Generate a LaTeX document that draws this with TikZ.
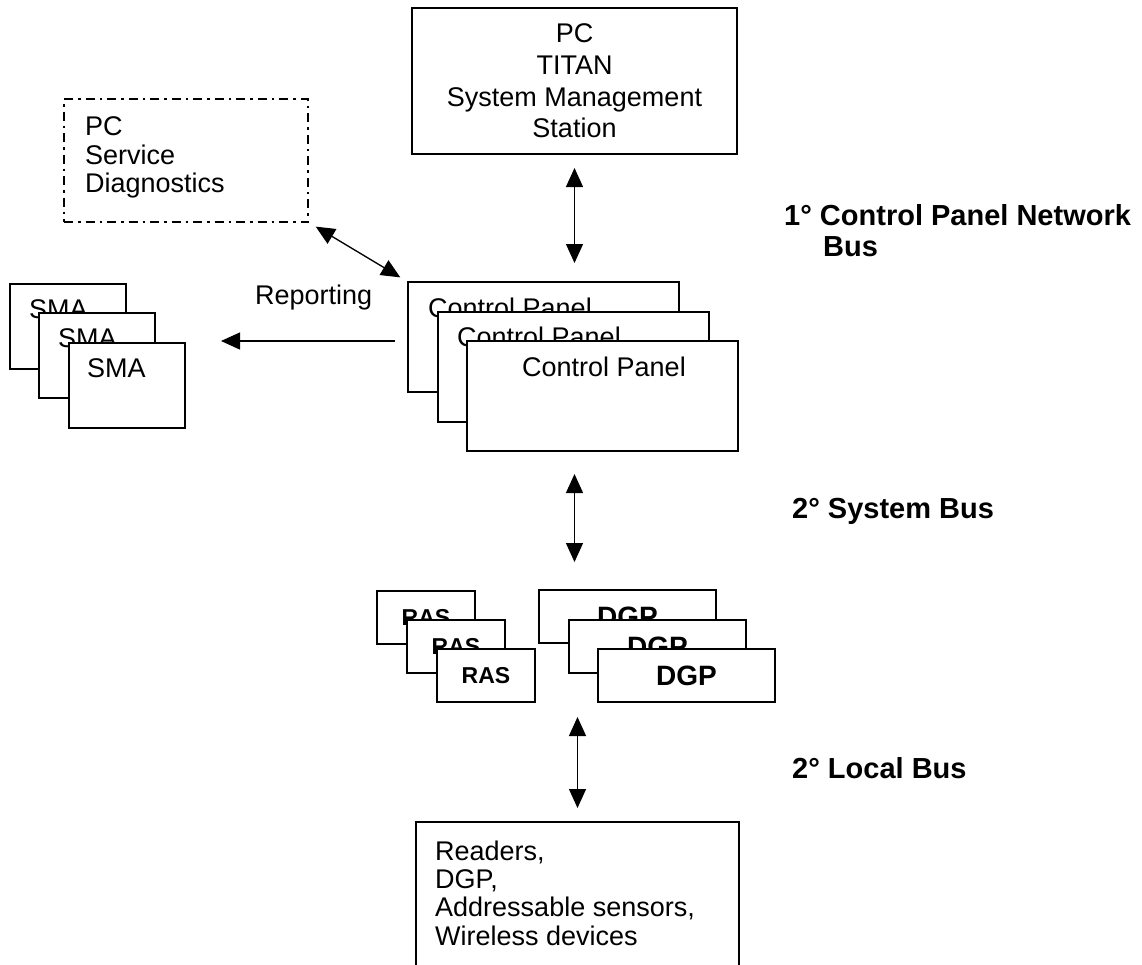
\documentclass[tikz,border=0pt]{standalone}
\usepackage{fontspec}
\setmainfont{Liberation Sans}
\usetikzlibrary{arrows.meta}
\begin{document}
\begin{tikzpicture}[x=1pt,y=-1pt,
  >={Triangle[length=19pt,width=17pt]},
  box/.style={draw, line width=1.3pt, fill=white, inner sep=0pt, outer sep=0pt, anchor=north west},
  dashdotbox/.style={box, line width=2.6pt, dash pattern=on 9pt off 5pt on 2.5pt off 5pt},
  regtxt/.style={font=\fontsize{27}{31.7}\selectfont},
  txt/.style={regtxt, anchor=base west, inner sep=0pt},
  rasbox/.style={box, minimum width=98pt, minimum height=53pt, font=\fontsize{23}{27}\selectfont\bfseries},
  dgpbox/.style={box, minimum width=177pt, minimum height=53pt, font=\fontsize{28}{32}\selectfont\bfseries},
  busl/.style={anchor=base west, inner sep=0pt, font=\fontsize{29}{33}\selectfont\bfseries},
  conn/.style={line width=1.3pt}]
\useasboundingbox (0,0) rectangle (1142,964);
\clip (0,0) rectangle (1142,964);

% top PC box
\node[box, regtxt, align=center, minimum width=325pt, minimum height=146pt] (top) at (412,8)
  {PC\\TITAN\\System Management\\Station};

% PC service diagnostics
\node[dashdotbox, minimum width=244pt, minimum height=123pt] (diag) at (64,99) {};
\node[regtxt, anchor=north west, inner sep=0pt, align=left, font=\fontsize{27}{28.5}\selectfont] (diagt) at (85,116.5)
  {PC\\Service\\Diagnostics};

% SMA stack
\node[box, minimum width=116pt, minimum height=85pt] (sma1) at (10,284) {};
\node[txt] (sma1t) at (29,318) {SMA};
\node[box, minimum width=116pt, minimum height=85pt] (sma2) at (39,313) {};
\node[txt] (sma2t) at (58,347) {SMA};
\node[box, minimum width=116pt, minimum height=85pt] (sma3) at (69,343) {};
\node[txt] (sma3t) at (87,377) {SMA};

% Control panel stack
\node[box, minimum width=271pt, minimum height=110pt] (cp1) at (408,282) {};
\node[txt] (cp1t) at (428,317) {Control Panel};
\node[box, minimum width=271pt, minimum height=110pt] (cp2) at (438,312) {};
\node[txt] (cp2t) at (457,346) {Control Panel};
\node[box, minimum width=271pt, minimum height=110pt] (cp3) at (467,341) {};
\node[txt] (cp3t) at (522,376) {Control Panel};

\node[txt] (rep) at (255,304) {Reporting};

% RAS stack
\node[rasbox] (ras1) at (377,591) {RAS};
\node[rasbox] (ras2) at (407,620) {RAS};
\node[rasbox] (ras3) at (437,649) {RAS};

% DGP stack
\node[dgpbox] (dgp1) at (539,590) {DGP};
\node[dgpbox] (dgp2) at (569,620) {DGP};
\node[dgpbox] (dgp3) at (598,649) {DGP};

% bottom box (open at the bottom edge)
\node[box, minimum width=323pt, minimum height=200pt] (bot) at (416,822) {};
\node[regtxt, anchor=north west, inner sep=0pt, align=left, font=\fontsize{27}{28.3}\selectfont] (bott) at (435,840.5)
  {Readers,\\DGP,\\Addressable sensors,\\Wireless devices};

% bus labels
\node[busl] (bus1) at (784,225) {1° Control Panel Network};
\node[busl] (bus1b) at (823,256) {Bus};
\node[busl] (bus2) at (792,518) {2° System Bus};
\node[busl] (bus3) at (792,778) {2° Local Bus};

% connectors
\coordinate (repy) at (0,341);
\draw[conn, <->, shorten <=14pt, shorten >=19pt] (top.south) -- (top.south |- cp1.north);
\draw[conn, <->, shorten <=23pt, shorten >=28pt] (top.south |- cp3.south) -- (top.south |- dgp1.north);
\draw[conn, <->, shorten <=15pt, shorten >=14pt] (bot.north |- dgp3.south) -- (bot.north);
\draw[conn, <->, shorten <=9pt, shorten >=9pt] (diag.south east) -- (cp1.north west);
\draw[conn, ->, shorten <=13pt, shorten >=36pt] (cp1.west |- repy) -- (sma3.east |- repy);
\end{tikzpicture}
\end{document}
